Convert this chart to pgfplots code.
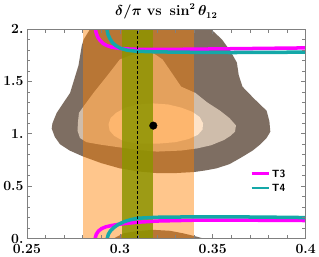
\documentclass[border=0pt]{standalone}
\usepackage{pgfplots}
\pgfplotsset{compat=1.18}
\definecolor{cdark}{RGB}{126,110,98}
\definecolor{cbeige}{RGB}{207,189,171}
\definecolor{cinner}{RGB}{253,227,201}
\definecolor{cband}{RGB}{255,128,0}
\definecolor{colive}{RGB}{140,148,0}
\definecolor{cmag}{RGB}{255,0,255}
\definecolor{cteal}{RGB}{20,168,168}
\newcommand{\tickfont}{\fontsize{14}{14}\selectfont\bfseries\boldmath}
\newcommand{\titlefont}{\fontsize{13.5}{13.5}\selectfont\bfseries\boldmath}
\newcommand{\legfont}{\fontsize{10.5}{10.5}\selectfont\sffamily\bfseries}
\protected\def\lstrut{\rule[-2.5bp]{0pt}{11.5bp}}
\begin{document}
\begin{tikzpicture}
\begin{axis}[
  scale only axis, width=278bp, height=209bp,
  xmin=0.25, xmax=0.4, ymin=0, ymax=2,
  xtick={0.25,0.3,0.35,0.4},
  xticklabels={0.25,0.3,0.35,0.4},
  ytick={0,0.5,1,1.5,2},
  yticklabels={0.,0.5,1.,1.5,2.},
  minor x tick num=4, minor y tick num=4,
  tick align=inside,
  major tick length=5bp, minor tick length=3.5bp,
  axis line style={gray, line width=0.6bp},
  tick style={gray, line width=0.6bp},
  tick label style={font=\tickfont},
  xticklabel style={yshift=-2bp},
  axis on top,
  title={$\delta/\pi\ \mathrm{vs}\ \sin^2\theta_{12}$},
  title style={font=\titlefont},
  legend style={at={(0.79,0.277)}, anchor=west, draw=none, fill=none, font=\legfont},
  legend cell align=left,
  no markers,
]
% outer region (upper)
\addplot[draw=none, fill=cdark, forget plot] coordinates {
 (0.285,2.05) (0.284,2.0) (0.2805,1.90) (0.2795,1.84) (0.2777,1.65) (0.2732,1.39)
 (0.266,1.20) (0.2637,1.10) (0.2633,1.05) (0.2650,0.97) (0.2678,0.90) (0.273,0.84)
 (0.280,0.785) (0.290,0.72) (0.300,0.67) (0.310,0.64) (0.320,0.625) (0.330,0.625)
 (0.340,0.635) (0.346,0.65) (0.352,0.67) (0.359,0.71) (0.365,0.77) (0.3715,0.84)
 (0.3757,0.90) (0.379,0.96) (0.381,1.02) (0.3805,1.12) (0.379,1.22) (0.372,1.34)
 (0.366,1.45) (0.364,1.56) (0.363,1.68) (0.3595,1.79) (0.355,1.90) (0.349,2.0) (0.348,2.05)
};
% outer region (lower)
\addplot[draw=none, fill=cdark, forget plot] coordinates {
 (0.296,-0.05) (0.2966,0) (0.302,0.05) (0.309,0.07) (0.318,0.083) (0.327,0.074)
 (0.334,0.05) (0.341,0.02) (0.345,0) (0.347,-0.05)
};
% middle region
\addplot[draw=none, fill=cbeige, forget plot] coordinates {
 (0.300,1.71) (0.306,1.75) (0.312,1.77) (0.318,1.77) (0.323,1.71) (0.328,1.58)
 (0.333,1.45) (0.3407,1.39) (0.347,1.30) (0.354,1.22) (0.359,1.15) (0.3625,1.08)
 (0.362,1.02) (0.3595,0.98) (0.356,0.94) (0.349,0.89) (0.3415,0.86) (0.333,0.84)
 (0.320,0.83) (0.310,0.845) (0.300,0.87) (0.290,0.895) (0.282,0.92) (0.2785,0.96)
 (0.2772,1.03) (0.2775,1.12) (0.278,1.20) (0.280,1.25) (0.2858,1.39) (0.293,1.55)
};
% inner region
\addplot[draw=none, fill=cinner, forget plot] coordinates {
 (0.2939,1.09) (0.2950,1.15) (0.298,1.20) (0.303,1.25) (0.310,1.28) (0.318,1.29)
 (0.326,1.28) (0.333,1.25) (0.339,1.21) (0.343,1.16) (0.3448,1.10) (0.3445,1.04)
 (0.342,0.99) (0.337,0.95) (0.330,0.92) (0.320,0.905) (0.310,0.905) (0.302,0.93)
 (0.297,0.98) (0.2945,1.03)
};
% bands
\addplot[draw=none, fill=cband, fill opacity=0.45, forget plot] coordinates {
 (0.28,-0.1) (0.34,-0.1) (0.34,2.1) (0.28,2.1)};
\addplot[draw=none, fill=colive, fill opacity=0.85, forget plot] coordinates {
 (0.301,-0.1) (0.318,-0.1) (0.318,2.1) (0.301,2.1)};
% curves
\addplot[cmag, line width=3.5bp, forget plot] coordinates {
 (0.2866,2.05) (0.2868,2.0) (0.2873,1.96) (0.2882,1.92) (0.2894,1.89) (0.2910,1.862)
 (0.2930,1.842) (0.2955,1.828) (0.2990,1.817) (0.3040,1.810) (0.3100,1.806)
 (0.32,1.805) (0.34,1.808) (0.36,1.812) (0.38,1.816) (0.40,1.82)};
\addplot[cteal, line width=3.5bp, forget plot] coordinates {
 (0.2928,2.05) (0.2930,2.0) (0.2936,1.95) (0.2946,1.91) (0.2960,1.87) (0.2980,1.84)
 (0.3005,1.815) (0.3040,1.798) (0.3090,1.788) (0.32,1.782) (0.34,1.778) (0.36,1.776)
 (0.38,1.777) (0.40,1.78)};
\addplot[cmag, line width=3.5bp, forget plot] coordinates {
 (0.2866,-0.05) (0.2867,0) (0.2873,0.04) (0.2885,0.072) (0.2902,0.095) (0.2925,0.112)
 (0.2960,0.126) (0.300,0.137) (0.309,0.155) (0.32,0.167) (0.34,0.175) (0.36,0.176)
 (0.38,0.174) (0.40,0.172)};
\addplot[cteal, line width=3.5bp, forget plot] coordinates {
 (0.2930,-0.05) (0.2932,0) (0.2938,0.04) (0.2950,0.075) (0.2968,0.105) (0.2992,0.135)
 (0.3025,0.162) (0.306,0.181) (0.310,0.194) (0.32,0.203) (0.34,0.207) (0.36,0.207)
 (0.38,0.204) (0.40,0.20)};
% dashed best-fit line
\addplot[black, line width=0.9bp, densely dashed, forget plot] coordinates {(0.3095,0) (0.3095,2)};
% best-fit dot
\addplot[only marks, mark=*, mark size=3.8bp, black, forget plot] coordinates {(0.318,1.078)};
\addlegendimage{cmag, line width=2.5bp}
\addlegendentry{\lstrut T3}
\addlegendimage{cteal, line width=2.5bp}
\addlegendentry{\lstrut T4}
\end{axis}
\end{tikzpicture}
\end{document}
